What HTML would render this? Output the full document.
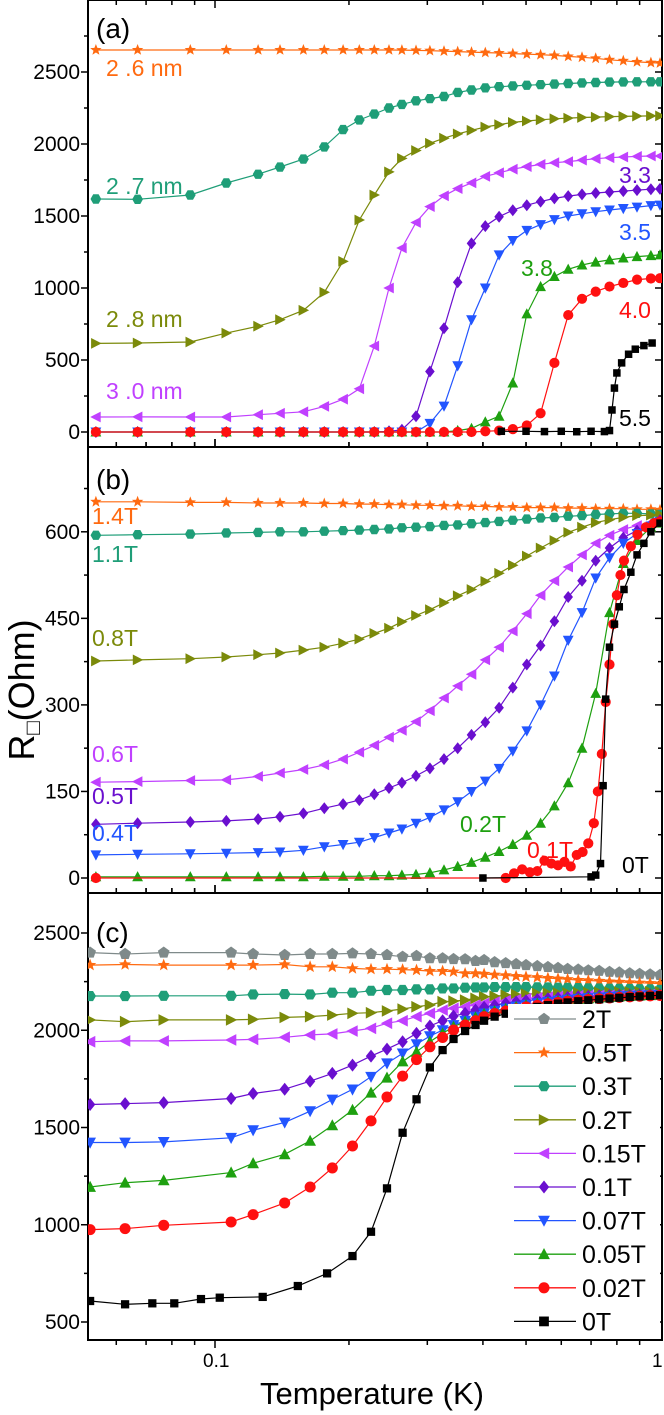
<!DOCTYPE html>
<html><head><meta charset="utf-8"><style>
html,body{margin:0;padding:0;background:#fff;}
svg{display:block;font-family:"Liberation Sans",Arial,sans-serif;}
</style></head><body>
<svg id="chart" width="664" height="1415" viewBox="0 0 664 1415" xmlns="http://www.w3.org/2000/svg">
<defs>
<clipPath id="clipA"><rect x="88" y="0" width="574" height="447"/></clipPath>
<clipPath id="clipB"><rect x="88" y="447" width="574" height="446"/></clipPath>
<clipPath id="clipC"><rect x="88" y="893" width="574" height="447"/></clipPath>
</defs>
<g id="layer"></g>
</svg>
<script>
// ---------- shared temperature grids ----------
const TG = [0.054,0.067,0.088,0.106,0.125,0.140,0.158,0.176,0.194,0.211,0.228,0.246,0.263,0.283,0.304,0.327,0.351,0.377,0.405,0.435,0.467,0.502,0.539,0.579,0.622,0.668,0.717,0.770,0.827,0.888,0.954,1.0];
const TC = [0.0524,0.0628,0.0767,0.1087,0.1218,0.1434,0.1636,0.1835,0.2037,0.2242,0.2435,0.264,0.2837,0.304,0.3247,0.3436,0.3648,0.385,0.4024,0.425,0.45,0.475,0.5,0.53,0.56,0.59,0.62,0.655,0.69,0.73,0.77,0.81,0.855,0.9,0.95,1.0];

// ---------- panel (a) ----------
const a26 = [2653,2653,2653,2653,2653,2653,2653,2653,2653,2653,2653,2653,2652,2650,2648,2645,2642,2638,2635,2632,2628,2624,2620,2615,2608,2602,2595,2585,2578,2570,2565,2562];
const a27 = [1618,1616,1646,1729,1790,1840,1895,1980,2100,2167,2208,2250,2275,2300,2315,2330,2358,2375,2390,2398,2403,2408,2412,2416,2420,2424,2427,2430,2431,2432,2432,2432];
const a28 = [615,618,625,687,735,780,845,970,1185,1472,1646,1806,1900,1955,2005,2040,2070,2095,2118,2135,2150,2160,2168,2175,2180,2184,2187,2190,2192,2194,2195,2195];
const a30 = [104,105,104,104,120,130,140,178,228,300,597,1000,1278,1455,1565,1640,1690,1730,1775,1800,1825,1843,1858,1870,1878,1888,1898,1905,1910,1914,1917,1917];
const a33 = [0,0,0,0,0,0,0,0,0,0,0,5,15,110,420,720,1040,1310,1430,1495,1540,1575,1600,1622,1638,1650,1660,1667,1673,1680,1686,1688];
const a35 = [0,0,0,0,0,0,0,0,0,0,0,0,0,0,60,180,460,780,1000,1230,1330,1400,1440,1475,1500,1515,1530,1542,1552,1562,1572,1576];
const a38 = [0,0,0,0,0,0,0,0,0,0,0,0,0,0,0,0,10,25,70,110,340,820,1010,1080,1130,1160,1180,1195,1208,1218,1225,1230];
const a40 = [0,0,0,0,0,0,0,0,0,0,0,0,0,0,0,0,0,0,5,10,20,45,130,480,812,925,975,1010,1035,1058,1066,1068];
const a55T = [0.44,0.5,0.55,0.6,0.65,0.7,0.75,0.77,0.78,0.79,0.80,0.82,0.85,0.88,0.92,0.96];
const a55 = [5,5,3,5,2,5,3,10,153,305,410,480,540,575,600,618];

// ---------- panel (b) ----------
const b14 = [652,652,651,651,650,650,650,649,649,648,648,647,647,646,646,645,645,644,644,643,643,642,642,642,641,641,640,640,640,639,639,638];
const b11 = [594,595,596,598,599,600,600,601,602,603,604,605,607,608,609,611,612,614,616,618,620,622,624,625,627,628,630,631,632,632,631,630];
const b08 = [376,378,380,383,387,390,395,400,407,414,424,433,444,455,465,477,489,500,514,528,542,558,572,585,599,608,616,621,625,628,629,630];
const b06 = [166,167,169,170,176,182,188,196,206,218,230,244,256,271,290,312,333,353,378,400,428,458,490,515,539,560,580,594,604,611,616,620];
const b05 = [93,95,97,99,102,106,112,121,128,135,145,156,165,177,190,206,225,248,270,295,330,370,403,445,487,515,550,572,590,602,612,620];
const b04 = [40,41,42,43,44,45,48,54,58,62,70,78,85,95,105,118,132,150,168,190,220,255,300,350,412,460,520,555,580,597,610,618];
const b02 = [2,2,2,2,2,2,2,3,3,3,4,4,5,6,9,14,20,27,36,46,58,74,95,125,165,225,320,460,545,585,608,615];
const b01T = [0.054,0.45,0.47,0.49,0.51,0.53,0.55,0.57,0.59,0.61,0.63,0.65,0.67,0.69,0.71,0.725,0.74,0.755,0.77,0.785,0.80,0.815,0.83,0.86,0.89,0.93,0.97,1.0];
const b01 = [0,0,8,15,10,12,30,25,22,28,20,40,45,60,95,150,215,305,370,440,490,525,550,575,595,608,615,618];
const b00T = [0.40,0.70,0.717,0.735,0.745,0.755,0.77,0.79,0.81,0.83,0.86,0.888,0.92,0.954,1.0];
const b00 = [0,2,5,25,160,310,400,440,470,500,530,560,580,600,615];

// ---------- panel (c) ----------
const c2T = [2399,2392,2399,2399,2392,2387,2392,2392,2395,2392,2387,2378,2382,2370,2370,2366,2365,2356,2361,2350,2345,2340,2335,2330,2325,2320,2315,2312,2308,2305,2300,2297,2293,2290,2287,2284];
const c05 = [2335,2338,2335,2335,2335,2338,2326,2326,2318,2314,2314,2312,2309,2304,2304,2301,2292,2292,2289,2285,2282,2278,2275,2272,2268,2265,2262,2258,2256,2253,2250,2248,2246,2244,2242,2240];
const c03 = [2176,2176,2177,2177,2184,2186,2184,2193,2193,2203,2207,2207,2210,2210,2215,2215,2219,2220,2220,2222,2222,2222,2222,2221,2220,2219,2218,2217,2216,2215,2214,2213,2212,2211,2210,2208];
const c02 = [2053,2044,2053,2053,2056,2066,2070,2078,2087,2090,2099,2109,2121,2130,2147,2150,2155,2164,2172,2175,2180,2183,2186,2188,2190,2191,2192,2193,2194,2195,2196,2197,2197,2198,2198,2198];
const c015 = [1941,1945,1945,1950,1953,1964,1976,1981,1996,2010,2036,2049,2070,2087,2104,2113,2121,2130,2138,2145,2152,2158,2163,2167,2170,2173,2175,2177,2178,2179,2180,2181,2182,2183,2184,2185];
const c01 = [1618,1623,1628,1649,1675,1697,1738,1778,1821,1867,1903,1941,1984,2022,2049,2073,2087,2104,2118,2128,2138,2146,2152,2158,2162,2166,2169,2172,2174,2176,2178,2179,2180,2181,2182,2183];
const c007 = [1423,1423,1426,1447,1486,1526,1584,1644,1696,1761,1830,1881,1929,1970,2001,2027,2049,2070,2087,2100,2112,2122,2131,2139,2146,2152,2157,2162,2166,2169,2172,2175,2177,2179,2181,2182];
const c005 = [1194,1216,1228,1268,1316,1362,1431,1511,1590,1679,1756,1839,1889,1941,1984,2018,2044,2066,2084,2098,2110,2120,2129,2137,2144,2150,2155,2160,2164,2168,2171,2174,2176,2178,2180,2181];
const c002 = [975,980,997,1014,1052,1112,1194,1292,1405,1534,1657,1764,1849,1915,1963,2001,2027,2049,2070,2086,2099,2110,2120,2128,2136,2143,2149,2154,2158,2162,2166,2169,2172,2175,2177,2179];
const c00T = [0.0524,0.0628,0.0723,0.081,0.093,0.1025,0.128,0.1535,0.1786,0.2037,0.2242,0.2435,0.264,0.2837,0.304,0.3247,0.3436,0.3648,0.385,0.4024,0.425,0.45,0.475,0.5,0.53,0.56,0.59,0.62,0.655,0.69,0.73,0.77,0.81,0.855,0.9,0.95,1.0];
const c00 = [608,591,596,596,618,625,629,685,750,839,964,1187,1473,1645,1809,1898,1955,1996,2027,2049,2070,2085,2098,2110,2120,2129,2137,2143,2149,2154,2159,2163,2167,2171,2174,2177,2180];

// tick labels
const ticksA = [0,500,1000,1500,2000,2500];
const ticksB = [0,150,300,450,600];
const ticksC = [500,1000,1500,2000,2500];
const legendLabels = ["2T","0.5T","0.3T","0.2T","0.15T","0.1T","0.07T","0.05T","0.02T","0T"];

// ---------- colours ----------
const COL = {orange:"#ff6a10",teal:"#1f9e78",olive:"#7b8a0a",mag:"#c040ff",purple:"#6a0fcf",blue:"#2255ff",green:"#1ea010",red:"#ff1010",black:"#000",grey:"#7f8a8a"};

// ---------- scales ----------
const X = t => 215 + 445*Math.log10(t/0.1);
const YA = r => 432 - 0.144*r;
const YB = r => 878 - 0.577*r;
const YC = r => 1322 - 0.1945*(r-500);

const NS = "http://www.w3.org/2000/svg";
const layer = document.getElementById('layer');
function el(tag, attrs, parent){
  const e = document.createElementNS(NS, tag);
  for (const k in attrs) e.setAttribute(k, attrs[k]);
  (parent||layer).appendChild(e);
  return e;
}

function marker(g, shape, cx, cy, color, s){
  let e;
  const p = pts => pts.map(q=>(cx+q[0]*s).toFixed(1)+","+(cy+q[1]*s).toFixed(1)).join(" ");
  if (shape==="circle"){ e = el('circle',{cx:cx,cy:cy,r:s*0.85,fill:color},g); }
  else if (shape==="square"){ e = el('rect',{x:cx-s*0.75,y:cy-s*0.75,width:s*1.5,height:s*1.5,fill:color},g); }
  else {
    let pp;
    if (shape==="star"){ pp=[]; for(let i=0;i<10;i++){const a=-Math.PI/2+i*Math.PI/5;const r=i%2?0.42:1;pp.push([r*Math.cos(a),r*Math.sin(a)]);} }
    else if (shape==="hex"){ pp=[]; for(let i=0;i<6;i++){const a=i*Math.PI/3;pp.push([0.9*Math.cos(a),0.9*Math.sin(a)]);} }
    else if (shape==="pent"){ pp=[]; for(let i=0;i<5;i++){const a=-Math.PI/2+i*2*Math.PI/5;pp.push([0.95*Math.cos(a),0.95*Math.sin(a)]);} }
    else if (shape==="right") pp=[[-0.8,-0.9],[0.95,0],[-0.8,0.9]];
    else if (shape==="left") pp=[[0.8,-0.9],[-0.95,0],[0.8,0.9]];
    else if (shape==="up") pp=[[0,-0.95],[0.9,0.75],[-0.9,0.75]];
    else if (shape==="down") pp=[[0,0.95],[0.9,-0.75],[-0.9,-0.75]];
    else if (shape==="diamond") pp=[[0,-1],[0.8,0],[0,1],[-0.8,0]];
    e = el('polygon',{points:p(pp),fill:color},g);
  }
  return e;
}

function series(name, clip, Ts, Rs, Y, color, shape, s){
  const g = el('g',{'clip-path':'url(#'+clip+')'});
  
  
  const d = Ts.map((t,i)=>(i?"L":"M")+X(t).toFixed(1)+","+Y(Rs[i]).toFixed(1)).join(" ");
  const line = el('path',{d:d,fill:"none",stroke:color,'stroke-width':1.2},g);
  
  
  Ts.forEach((t,i)=>{
    const m = marker(g, shape, X(t), Y(Rs[i]), color, s);
    
    
  });
}

// ---------- frames & ticks ----------
function panelFrame(name, top, bottom, Y, ticks, minorStep, maxV, minV, topDir, botDir){
  const g = el('g',{});
  
  
  el('rect',{x:88,y:top,width:574,height:bottom-top,fill:"none",stroke:"#000",'stroke-width':2},g);
  // y ticks
  for (let v=minV - (minV%minorStep); v<=maxV; v+=minorStep){
    const y = Y(v);
    if (y<top+1 || y>bottom-1) continue;
    const major = ticks.indexOf(v)>=0;
    const L = major?7:4;
    el('line',{x1:88-L,y1:y,x2:88,y2:y,stroke:"#000",'stroke-width':1.5},g);
    el('line',{x1:662,y1:y,x2:662-L,y2:y,stroke:"#000",'stroke-width':1.5},g);
  }
  ticks.forEach(v=>{
    const t = el('text',{x:80,y:Y(v)+7,'text-anchor':'end','font-size':21,fill:"#000"},g);
    t.textContent = v;
    
    
  });
  // x ticks
  const xt = [0.06,0.07,0.08,0.09,0.1,0.2,0.3,0.4,0.5,0.6,0.7,0.8,0.9];
  xt.forEach(t=>{
    const x = X(t); const L = (t===0.1)?8:5;
    el('line',{x1:x,y1:top,x2:x,y2:top+topDir*L,stroke:"#000",'stroke-width':1.5},g);
    el('line',{x1:x,y1:bottom,x2:x,y2:bottom+botDir*L,stroke:"#000",'stroke-width':1.5},g);
  });
}
panelFrame('panel-a',0,447,YA,ticksA,250,2900,0,1,-1);
panelFrame('panel-b',447,893,YB,ticksB,75,740,0,-1,-1);
panelFrame('panel-c',893,1340,YC,ticksC,250,2750,250,-1,1);

// ---------- panel (a) series ----------
series('series-a-2.6nm','clipA',TG,a26,YA,COL.orange,'star',6);
series('series-a-2.7nm','clipA',TG,a27,YA,COL.teal,'hex',6);
series('series-a-2.8nm','clipA',TG,a28,YA,COL.olive,'right',6);
series('series-a-3.0nm','clipA',TG,a30,YA,COL.mag,'left',6);
series('series-a-3.3nm','clipA',TG,a33,YA,COL.purple,'diamond',6);
series('series-a-3.5nm','clipA',TG,a35,YA,COL.blue,'down',6);
series('series-a-3.8nm','clipA',TG,a38,YA,COL.green,'up',6);
series('series-a-4.0nm','clipA',TG,a40,YA,COL.red,'circle',6);
series('series-a-5.5nm','clipA',a55T,a55,YA,COL.black,'square',5);

// ---------- panel (b) series ----------
series('series-b-1.4T','clipB',TG,b14,YB,COL.orange,'star',6);
series('series-b-1.1T','clipB',TG,b11,YB,COL.teal,'hex',6);
series('series-b-0.8T','clipB',TG,b08,YB,COL.olive,'right',6);
series('series-b-0.6T','clipB',TG,b06,YB,COL.mag,'left',6);
series('series-b-0.5T','clipB',TG,b05,YB,COL.purple,'diamond',6);
series('series-b-0.4T','clipB',TG,b04,YB,COL.blue,'down',6);
series('series-b-0.2T','clipB',TG,b02,YB,COL.green,'up',6);
series('series-b-0.1T','clipB',b01T,b01,YB,COL.red,'circle',6);
series('series-b-0T','clipB',b00T,b00,YB,COL.black,'square',5);

// ---------- panel (c) series ----------
series('series-c-2T','clipC',TC,c2T,YC,COL.grey,'pent',6.5);
series('series-c-0.5T','clipC',TC,c05,YC,COL.orange,'star',6.5);
series('series-c-0.3T','clipC',TC,c03,YC,COL.teal,'hex',6.5);
series('series-c-0.2T','clipC',TC,c02,YC,COL.olive,'right',6.5);
series('series-c-0.15T','clipC',TC,c015,YC,COL.mag,'left',6.5);
series('series-c-0.1T','clipC',TC,c01,YC,COL.purple,'diamond',6.5);
series('series-c-0.07T','clipC',TC,c007,YC,COL.blue,'down',6.5);
series('series-c-0.05T','clipC',TC,c005,YC,COL.green,'up',6.5);
series('series-c-0.02T','clipC',TC,c002,YC,COL.red,'circle',6.5);
series('series-c-0T','clipC',c00T,c00,YC,COL.black,'square',5.5);

// ---------- legend (c) ----------
const legCols = [COL.grey,COL.orange,COL.teal,COL.olive,COL.mag,COL.purple,COL.blue,COL.green,COL.red,COL.black];
const legShapes = ['pent','star','hex','right','left','diamond','down','up','circle','square'];
const lg = el('g',{});


el('rect',{x:508,y:1004,width:152,height:334,fill:"#fff"},lg);
legendLabels.forEach((lab,i)=>{
  const y = 1019 + i*33.6;
  const row = el('g',{},lg);
  
  
  el('line',{x1:514,y1:y,x2:576,y2:y,stroke:legCols[i],'stroke-width':1.3},row);
  marker(row, legShapes[i], 544, y, legCols[i], 6.5);
  const t = el('text',{x:582,y:y+9,'font-size':25,fill:"#000"},row);
  t.textContent = lab;
});

// ---------- annotations ----------
function label(txt,x,y,color,size,name){
  const t = el('text',{x:x,y:y,'font-size':size,fill:color});
  t.textContent = txt;
  
  
}
label('(a)',96,38,'#000',28,'panel-a-label');
label('(b)',96,489,'#000',28,'panel-b-label');
label('(c)',96,942,'#000',28,'panel-c-label');
label('2 .6 nm',106,76,COL.orange,23,'label-2.6nm');
label('2 .7 nm',106,194,COL.teal,23,'label-2.7nm');
label('2 .8 nm',106,327,COL.olive,23,'label-2.8nm');
label('3 .0 nm',106,399,COL.mag,23,'label-3.0nm');
label('3.3',619,183,COL.purple,23,'label-3.3nm');
label('3.5',619,240,COL.blue,23,'label-3.5nm');
label('3.8',521,276,COL.green,23,'label-3.8nm');
label('4.0',619,318,COL.red,23,'label-4.0nm');
label('5.5',619,426,'#000',23,'label-5.5nm');
label('1.4T',92,524,COL.orange,23,'label-1.4T');
label('1.1T',92,562,COL.teal,23,'label-1.1T');
label('0.8T',92,646,COL.olive,23,'label-0.8T');
label('0.6T',92,762,COL.mag,23,'label-0.6T');
label('0.5T',92,804,COL.purple,23,'label-0.5T');
label('0.4T',92,841,COL.blue,23,'label-0.4T');
label('0.2T',460,832,COL.green,23,'label-0.2T');
label('0.1T',527,858,COL.red,23,'label-0.1T');
label('0T',622,873,'#000',23,'label-0T');

// axis tick labels x
label('0.1',203,1367,'#000',19,'x-tick-label-0.1');
label('1',652,1367,'#000',19,'x-tick-label-1');
const xt = el('text',{x:372,y:1404,'text-anchor':'middle','font-size':31,fill:'#000'});
xt.textContent = 'Temperature (K)';


const yt = el('text',{x:0,y:0,'text-anchor':'middle','font-size':36,fill:'#000',transform:'translate(34,690) rotate(-90)'});


const s1 = el('tspan',{},yt); s1.textContent='R';
const s2 = el('tspan',{'font-size':22,dy:6},yt); s2.textContent='\u25A1';
const s3 = el('tspan',{dy:-6},yt); s3.textContent='(Ohm)';
</script>
</body></html>
